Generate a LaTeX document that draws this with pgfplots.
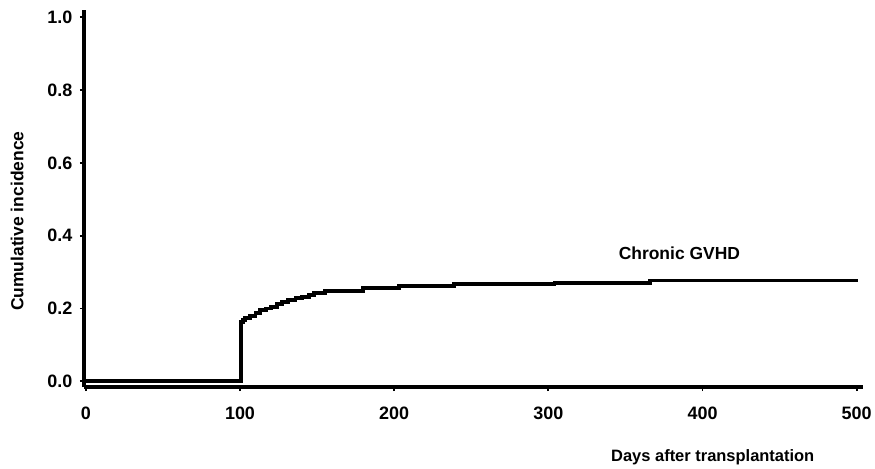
\documentclass[border=0pt]{standalone}
\usepackage{fontspec}
\setmainfont{Liberation Sans}
\usepackage{pgfplots}
\pgfplotsset{compat=1.18}

\begin{document}
\begin{tikzpicture}
  \begin{axis}[
      scale only axis,
      width=781pt, height=378pt,
      xmin=-1.3, xmax=504.2, ymin=-0.016, ymax=1.02,
      axis lines=left,
      axis line style={-, line width=4pt},
      xtick={0,100,200,300,400,500},
      ytick={0,0.2,0.4,0.6,0.8,1.0},
      tick align=outside,
      major tick length=4pt,
      tick style={black, line width=1.8pt},
      /pgf/number format/assume math mode=true,
      yticklabel style={/pgf/number format/fixed, /pgf/number format/fixed zerofill,
                        /pgf/number format/precision=1, xshift=-4pt},
      xticklabel style={yshift=-12pt},
      tick label style={font=\bfseries\fontsize{18}{18}\selectfont},
      xlabel={Days after transplantation},
      ylabel={Cumulative incidence},
      x label style={font=\bfseries\fontsize{16.5}{16.5}\selectfont,
                     at={(axis description cs:0.807,-0.186)}, anchor=center},
      y label style={font=\bfseries\fontsize{17.5}{17.5}\selectfont,
                     at={(axis description cs:-0.0857,0.44)}, anchor=center, rotate=0},
      clip=false,
    ]
    \addplot[const plot, black, line width=3.8pt] coordinates {
      (0,0) (100.4,0) (100.4,0.163) (102,0.168) (103.5,0.173) (106.4,0.180) (110,0.188)
      (113,0.196) (117,0.200) (120,0.205) (124,0.213) (127,0.218) (131,0.223) (136,0.228)
      (140,0.232) (145,0.238) (148,0.243) (155,0.248) (180,0.256) (203,0.262) (239,0.267)
      (304,0.271) (366,0.277) (500.8,0.277)};
    \node[font=\bfseries\fontsize{17.5}{17.5}\selectfont] at (axis cs:385,0.351) {Chronic GVHD};
  \end{axis}
  \path (current axis.south west) ++(-84pt,-79pt);
  \path (current axis.north east) ++(9pt,10pt);
\end{tikzpicture}
\end{document}
